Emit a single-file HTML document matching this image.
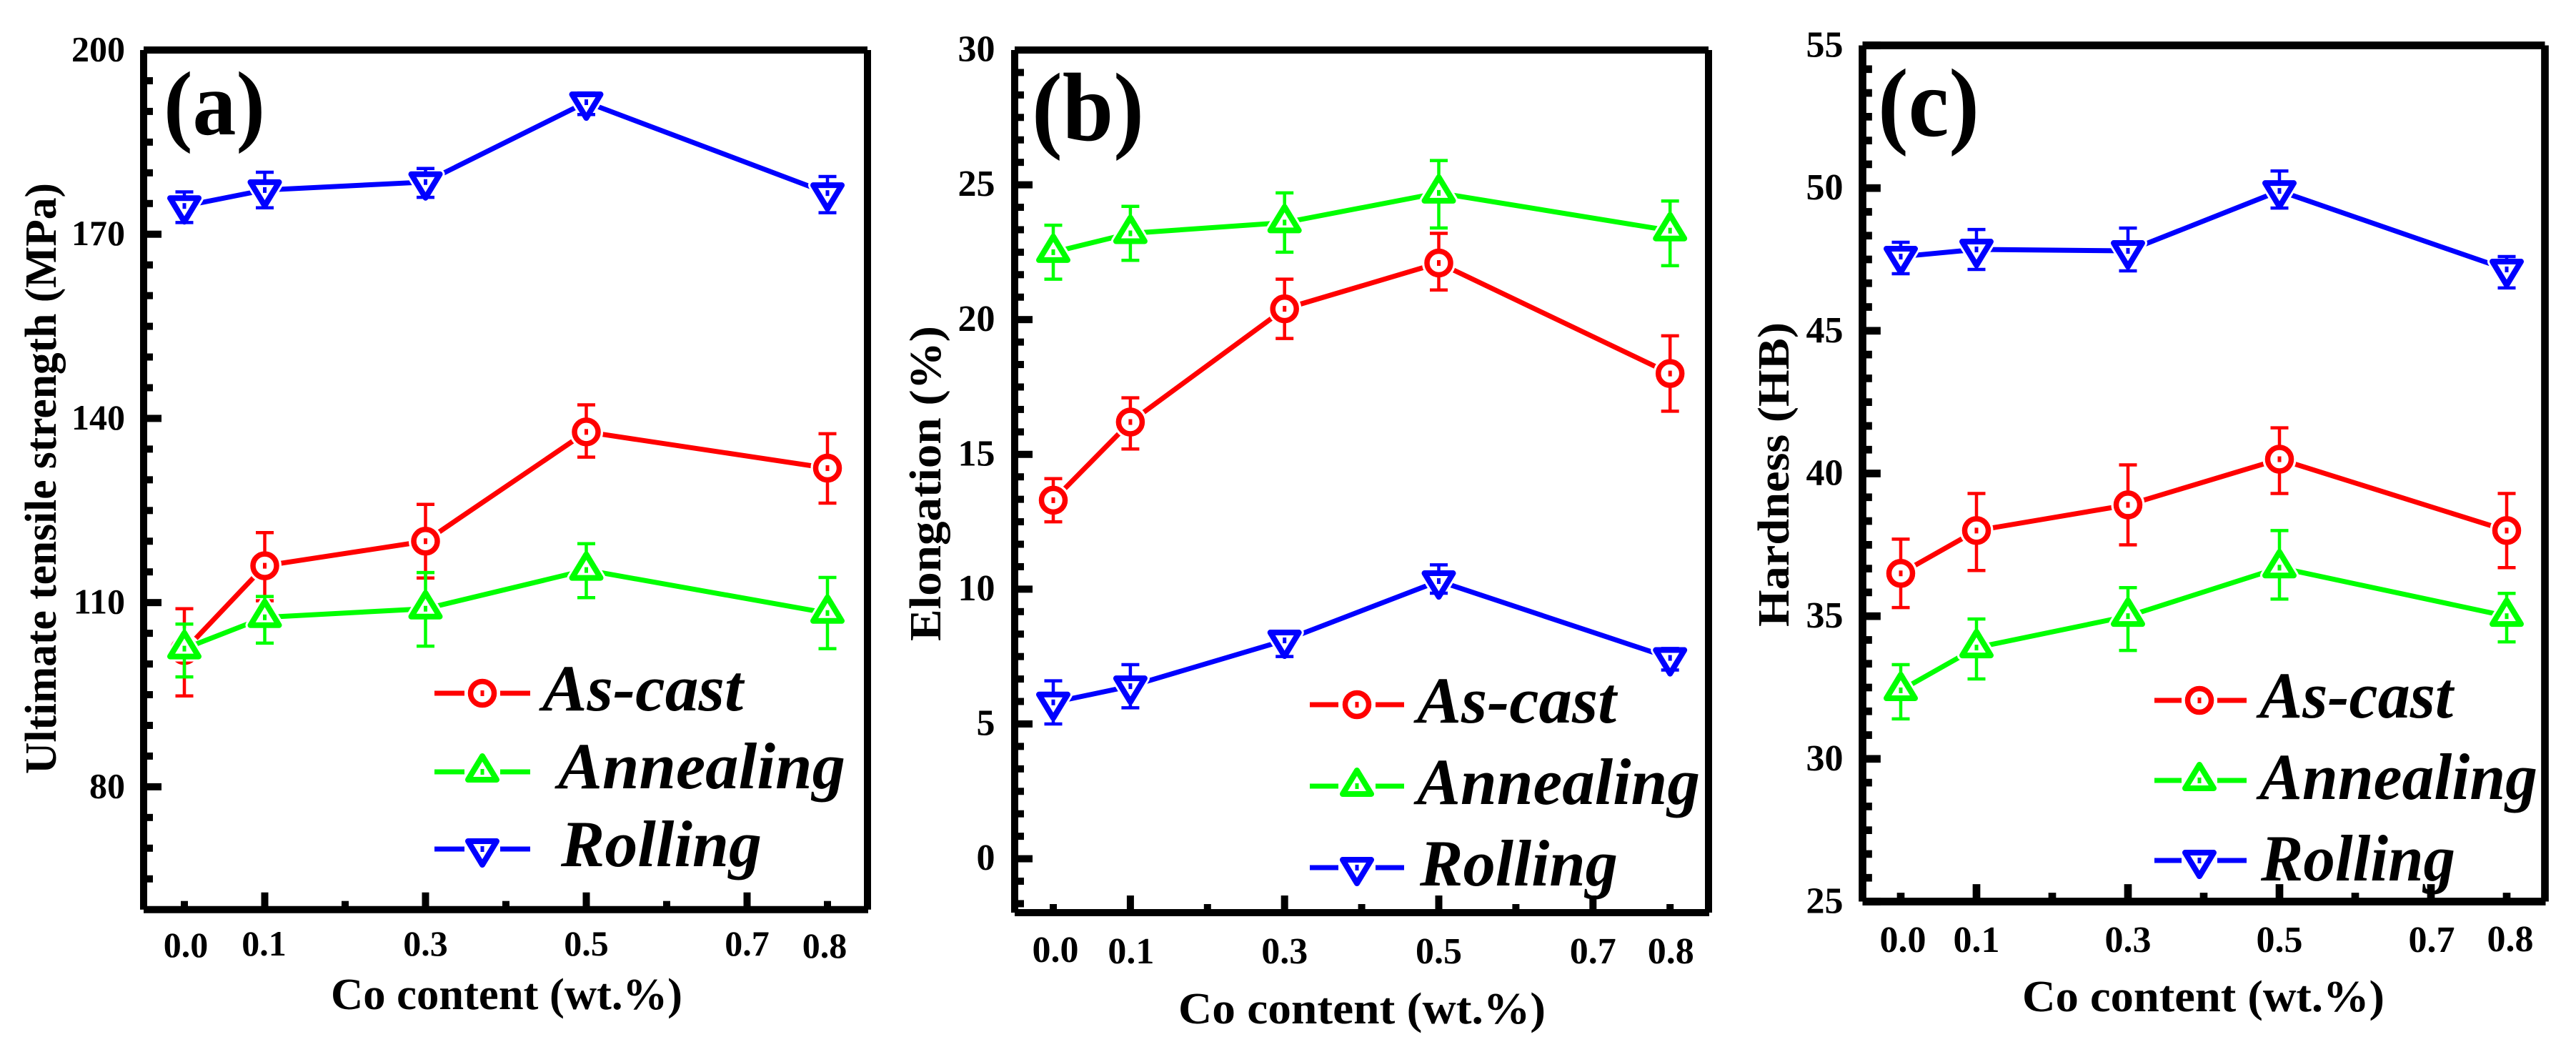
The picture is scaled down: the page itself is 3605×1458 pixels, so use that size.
<!DOCTYPE html>
<html lang="en">
<head>
<meta charset="utf-8">
<title>Mechanical properties vs Co content</title>
<style>
html,body{margin:0;padding:0;background:#fff;width:3605px;height:1458px;overflow:hidden}
svg{display:block}
text{font-family:"Liberation Serif",serif;font-weight:bold;fill:#000}
.leg{font-size:92px;font-style:italic}
.title{font-size:62px}
</style>
</head>
<body>
<svg id="chart" width="3605" height="1458" viewBox="0 0 3605 1458" xmlns="http://www.w3.org/2000/svg" shape-rendering="geometricPrecision"></svg>
<script>
// ---------- shared data ----------
const coContent = [0, 0.1, 0.3, 0.5, 0.8];
const xTickValues = [0, 0.1, 0.2, 0.3, 0.4, 0.5, 0.6, 0.7, 0.8];
const xMajorTicks = [0.1, 0.3, 0.5, 0.7];
const xTickLabels = ["0.0", "0.1", "0.3", "0.5", "0.7", "0.8"];
const xTickLabelValues = [0, 0.1, 0.3, 0.5, 0.7, 0.8];
const seriesNames = ["As-cast", "Annealing", "Rolling"];

// ---------- panel (a) data ----------
const aYTicks = [200, 170, 140, 110, 80];
const aAsCast = [102.2, 116, 120, 137.8, 131.9];
const aAsCastHigh = [109, 121.4, 126, 142.2, 137.5];
const aAsCastLow = [94.8, 110.3, 114, 133.7, 126.2];
const aAnnealing = [102.5, 107.6, 109, 115.3, 108.3];
const aAnnealingHigh = [106.5, 111, 114.9, 119.6, 114.1];
const aAnnealingLow = [97.9, 103.4, 102.9, 110.8, 102.5];
const aRolling = [174.6, 177.2, 178.5, 191.5, 176.7];
const aRollingHigh = [176.9, 180.1, 180.7, 193, 179.4];
const aRollingLow = [171.9, 174.3, 176, 189.5, 173.5];

// ---------- panel (b) data ----------
const bYTicks = [30, 25, 20, 15, 10, 5, 0];
const bAsCast = [13.3, 16.2, 20.4, 22.1, 18];
const bAsCastHigh = [14.1, 17.1, 21.5, 23.2, 19.4];
const bAsCastLow = [12.5, 15.2, 19.3, 21.1, 16.6];
const bAnnealing = [22.5, 23.2, 23.6, 24.7, 23.3];
const bAnnealingHigh = [23.5, 24.2, 24.7, 25.9, 24.4];
const bAnnealingLow = [21.5, 22.2, 22.5, 23.4, 22];
const bRolling = [5.8, 6.4, 8.1, 10.3, 7.45];
const bRollingHigh = [6.6, 7.2, 8.4, 10.9, 7.8];
const bRollingLow = [5, 5.6, 7.5, 9.85, 7];

// ---------- panel (c) data ----------
const cYTicks = [55, 50, 45, 40, 35, 30, 25];
const cAsCast = [36.5, 38, 38.9, 40.5, 38];
const cAsCastHigh = [37.7, 39.3, 40.3, 41.6, 39.3];
const cAsCastLow = [35.3, 36.6, 37.5, 39.3, 36.7];
const cAnnealing = [32.4, 33.9, 35, 36.7, 35];
const cAnnealingHigh = [33.3, 34.9, 36, 38, 35.8];
const cAnnealingLow = [31.4, 32.8, 33.8, 35.6, 34.1];
const cRolling = [47.6, 47.85, 47.8, 49.9, 47.15];
const cRollingHigh = [48.1, 48.55, 48.6, 50.6, 47.6];
const cRollingLow = [47, 47.15, 47.1, 49.3, 46.5];

// ---------- layout ----------
const colors = ["#ff0000", "#00ff00", "#0000ff"];
const shapes = ["circle", "up", "down"];
const panels = [
  {id:"a", tag:"(a)", box:[201,70,1214,1272.7], frameW:10, yMin:60, yMax:200, majorStep:30,
   x0:258, xk:1125, yTicks:aYTicks, tickFont:50, tickDy:15.5,
   series:[[aAsCast,aAsCastHigh,aAsCastLow],[aAnnealing,aAnnealingHigh,aAnnealingLow],[aRolling,aRollingHigh,aRollingLow]],
   tickRight:175, xLabelBase:[1339,1337,1337,1337,1337,1340], xLabelShift:[2,-1,0,0,0,-4],
   tagPos:[229,188,142], tagFont:127,
   xTitle:"Co content (wt.%)", xTitlePos:[463,1412,492],
   yTitle:"Ultimate tensile strength (MPa)", yTitlePos:[78,1083,827],
   legendLine:[608,742,650,700], legendMarker:675, legendY:[970,1080,1188],
   legendText:[[759,994,281],[781,1103,402],[785,1212,281]]},
  {id:"b", tag:"(b)", box:[1420,70,2391,1277], frameW:10, yMin:-2, yMax:30, majorStep:5,
   x0:1474, xk:1079, yTicks:bYTicks, tickFont:52, tickDy:15.6,
   series:[[bAsCast,bAsCastHigh,bAsCastLow],[bAnnealing,bAnnealingHigh,bAnnealingLow],[bRolling,bRollingHigh,bRollingLow]],
   tickRight:1392.5, xLabelBase:[1346,1348,1348,1348,1348,1348], xLabelShift:[3,1,0,0,0,1],
   tagPos:[1444,196,157], tagFont:136,
   xTitle:"Co content (wt.%)", xTitlePos:[1649,1432,514],
   yTitle:"Elongation (%)", yTitlePos:[1316,897,441],
   legendLine:[1833,1965,1873,1925], legendMarker:1899, legendY:[986,1100,1214],
   legendText:[[1983,1011,279],[1983,1125,396],[1987,1239,277]]},
  {id:"c", tag:"(c)", box:[2606.5,63.5,3561.5,1261.5], frameW:10.7, yMin:25, yMax:55, majorStep:5,
   x0:2660, xk:1060, yTicks:cYTicks, tickFont:52, tickDy:16,
   series:[[cAsCast,cAsCastHigh,cAsCastLow],[cAnnealing,cAnnealingHigh,cAnnealingLow],[cRolling,cRollingHigh,cRollingLow]],
   tickRight:2579.5, xLabelBase:[1332,1332,1332,1332,1332,1331], xLabelShift:[3,0,0,0,1,5],
   tagPos:[2628,190,142], tagFont:136,
   xTitle:"Co content (wt.%)", xTitlePos:[2830,1415,507],
   yTitle:"Hardness (HB)", yTitlePos:[2503,877,426],
   legendLine:[3015,3144,3053,3103], legendMarker:3078, legendY:[980,1092,1204],
   legendText:[[3162,1004,271],[3162,1118,389],[3164,1232,272]]}
];

// ---------- drawing ----------
const svg = document.getElementById("chart");
const NS = "http://www.w3.org/2000/svg";
function make(tag, attrs, parent){
  const el = document.createElementNS(NS, tag);
  for (const k in attrs) el.setAttribute(k, attrs[k]);
  parent.appendChild(el);
  return el;
}
function label(str, x, y, cls, len, anchor, parent, size){
  const attrs = {x:x, y:y};
  if (cls) attrs["class"] = cls;
  if (size) attrs["font-size"] = size;
  if (anchor) attrs["text-anchor"] = anchor;
  if (len) { attrs.textLength = len; attrs.lengthAdjust = "spacingAndGlyphs"; }
  const el = make("text", attrs, parent);
  el.textContent = str;
  return el;
}
function markerPath(shape, x, y){
  if (shape === "up") return `M${x} ${y-22}L${x+20} ${y+11}L${x-20} ${y+11}Z`;
  return `M${x} ${y+22}L${x+20} ${y-11}L${x-20} ${y-11}Z`;
}
function drawHalo(shape, x, y, parent){
  if (shape === "circle") {
    make("circle", {cx:x, cy:y, r:17, fill:"#fff", stroke:"#fff", "stroke-width":13}, parent);
  } else {
    make("path", {d:markerPath(shape, x, y), fill:"#fff", stroke:"#fff", "stroke-width":14, "stroke-linejoin":"round"}, parent);
  }
}
function drawMarker(shape, x, y, color, parent){
  const g = make("g", {}, parent);
  
  
  if (shape === "circle") {
    make("circle", {cx:x, cy:y, r:16.5, fill:"#fff", stroke:color, "stroke-width":7.5}, g);
  } else {
    make("path", {d:markerPath(shape, x, y), fill:"#fff", stroke:color, "stroke-width":8, "stroke-linejoin":"round"}, g);
  }
  make("rect", {x:x-2.5, y:y-4, width:5, height:8, fill:color}, g);
}

panels.forEach(function(p){
  const [L,T,R,B] = p.box;
  const w = p.frameW;
  const sx = v => p.x0 + v * p.xk;
  const sy = v => B + (v - p.yMin) * (T - B) / (p.yMax - p.yMin);

  const group = make("g", {}, svg);
  
  

  // y axis
  const yAxis = make("g", {fill:"#000"}, group);
  
  
  const minorStep = p.majorStep / 6;
  for (let i = 1; p.yMax - i * minorStep > p.yMin + 0.001; i++) {
    if (i % 6 === 0) continue;
    const v = p.yMax - i * minorStep;
    make("rect", {x:L, y:sy(v)-w/2, width:w/2+8, height:w}, yAxis);
  }
  p.yTicks.forEach(function(v){
    make("rect", {x:L, y:sy(v)-w/2, width:w/2+20, height:w}, yAxis);
    const t = label(String(v), p.tickRight, sy(v)+p.tickDy, null, null, "end", yAxis, p.tickFont);
    
    
  });

  // x axis
  const xAxis = make("g", {fill:"#000"}, group);
  
  
  xTickValues.forEach(function(v){
    const major = xMajorTicks.indexOf(v) >= 0;
    const h = w/2 + (major ? 19 : 7);
    make("rect", {x:sx(v)-w/2, y:B-h, width:w, height:h}, xAxis);
  });
  xTickLabels.forEach(function(s, i){
    const t = label(s, sx(xTickLabelValues[i]) + p.xLabelShift[i], p.xLabelBase[i], null, null, "middle", xAxis, p.tickFont);
    
    
  });

  // frame: four butt-capped bars, giving the notched corners of the original
  const frame = make("path", {d:`M${L} ${T}V${B}M${L} ${T}H${R}M${R} ${T}V${B}M${L} ${B}H${R+1}`, fill:"none", stroke:"#000", "stroke-width":w}, group);
  
  

  // series
  p.series.forEach(function(s, si){
    const g = make("g", {}, group);
    
    
    const [vals, hi, lo] = s;
    const col = colors[si];
    const line = make("polyline", {points:vals.map((v,i)=>sx(coContent[i])+","+sy(v)).join(" "), fill:"none", stroke:col, "stroke-width":7}, g);
    
    
    vals.forEach(function(v, i){
      drawHalo(shapes[si], sx(coContent[i]), sy(v), g);
    });
    vals.forEach(function(v, i){
      const x = sx(coContent[i]);
      const eb = make("path", {d:`M${x-12.5} ${sy(hi[i])}H${x+12.5}M${x} ${sy(hi[i])}V${sy(lo[i])}M${x-12.5} ${sy(lo[i])}H${x+12.5}`, fill:"none", stroke:col, "stroke-width":4.5}, g);
      
      
    });
    vals.forEach(function(v, i){
      drawMarker(shapes[si], sx(coContent[i]), sy(v), col, g);
    });
  });

  // legend
  const lg = make("g", {}, group);
  
  
  seriesNames.forEach(function(n, i){
    const e = make("g", {}, lg);
    
    
    const y = p.legendY[i], ll = p.legendLine;
    make("path", {d:`M${ll[0]} ${y}H${ll[2]}M${ll[3]} ${y}H${ll[1]}`, fill:"none", stroke:colors[i], "stroke-width":7}, e);
    drawMarker(shapes[i], p.legendMarker, y, colors[i], e);
    const tp = p.legendText[i];
    label(n, tp[0], tp[1], "leg", tp[2], null, e);
  });

  // titles
  const tag = label(p.tag, p.tagPos[0], p.tagPos[1], null, p.tagPos[2], null, group, p.tagFont);
  
  
  const xt = label(p.xTitle, p.xTitlePos[0], p.xTitlePos[1], "title", p.xTitlePos[2], null, group);
  
  
  const yt = make("text", {transform:`translate(${p.yTitlePos[0]} ${p.yTitlePos[1]}) rotate(-90)`, class:"title", textLength:p.yTitlePos[2], lengthAdjust:"spacingAndGlyphs"}, group);
  yt.textContent = p.yTitle;
  
  
});
</script>
</body>
</html>
